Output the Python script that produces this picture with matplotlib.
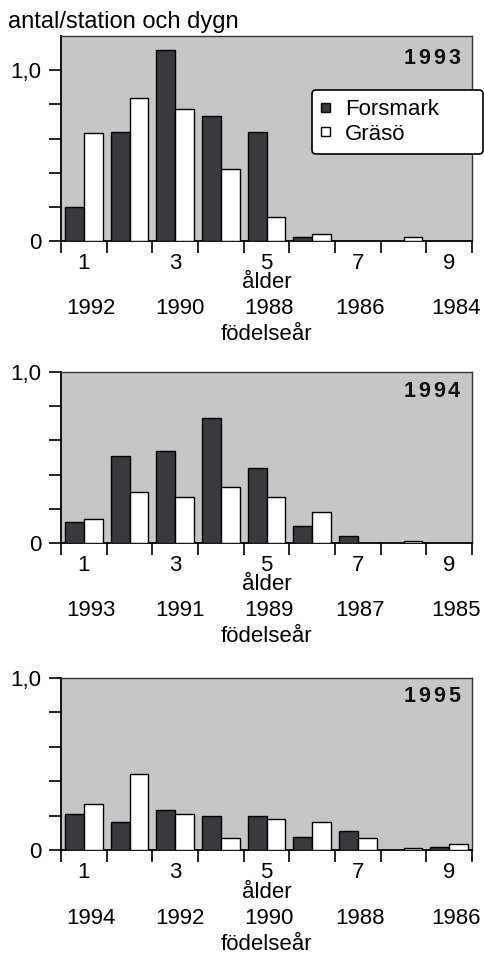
import numpy as np
import matplotlib
matplotlib.use("Agg")
import matplotlib.pyplot as plt
from matplotlib.transforms import offset_copy

plt.rcParams['font.family'] = ['Liberation Sans', 'DejaVu Sans']

# ---------------- data ----------------
ages = [1, 2, 3, 4, 5, 6, 7, 8, 9]
age_labels = ['1', '3', '5', '7', '9']
age_label_pos = [1, 3, 5, 7, 9]

panel_years = ['1993', '1994', '1995']
birth_years_1993 = ['1992', '1990', '1988', '1986', '1984']
birth_years_1994 = ['1993', '1991', '1989', '1987', '1985']
birth_years_1995 = ['1994', '1992', '1990', '1988', '1986']

forsmark_1993 = [0.20, 0.64, 1.12, 0.73, 0.64, 0.025, 0.0, 0.0, 0.0]
graso_1993 = [0.63, 0.84, 0.77, 0.42, 0.14, 0.04, 0.0, 0.025, 0.0]
forsmark_1994 = [0.12, 0.51, 0.54, 0.73, 0.44, 0.10, 0.043, 0.0, 0.0]
graso_1994 = [0.14, 0.30, 0.27, 0.33, 0.27, 0.18, 0.0, 0.012, 0.0]
forsmark_1995 = [0.21, 0.16, 0.23, 0.20, 0.20, 0.075, 0.11, 0.0, 0.02]
graso_1995 = [0.27, 0.44, 0.21, 0.07, 0.18, 0.16, 0.07, 0.012, 0.033]

series_names = ['Forsmark', 'Gräsö']
y_label = 'antal/station och dygn'
x_label1 = 'ålder'
x_label2 = 'födelseår'

# ---------------- style ----------------
W, H = 484, 956
FS = 16
BG = '#c6c6c6'
DARK = '#3a3a3e'
bar_w = 0.415

fig = plt.figure(figsize=(W / 100, H / 100), dpi=100)

# axes rectangles in pixels: left, top, right, bottom
rects = [(61, 36, 472, 241), (61, 372, 472, 543), (61, 678, 472, 850)]
ylims = [1.2, 1.0, 1.0]
title_dy = [23, 19, 18]
fors = [forsmark_1993, forsmark_1994, forsmark_1995]
gras = [graso_1993, graso_1994, graso_1995]
births = [birth_years_1993, birth_years_1994, birth_years_1995]
birth_pos = [1.15, 3.1, 5.05, 7.05, 9.15]

x = np.array(ages, dtype=float)
axes = []
for k, (l, t, r, b) in enumerate(rects):
    ax = fig.add_axes([l / W, 1 - b / H, (r - l) / W, (b - t) / H])
    axes.append(ax)
    ax.set_facecolor(BG)
    f = np.array(fors[k]); g = np.array(gras[k])
    mf = f > 0; mg = g > 0
    ax.bar(x[mf] - bar_w / 2, f[mf], width=bar_w, color=DARK, edgecolor='black',
           linewidth=1.0, label=series_names[0], zorder=3)
    ax.bar(x[mg] + bar_w / 2, g[mg], width=bar_w, color='white', edgecolor='black',
           linewidth=1.0, label=series_names[1], zorder=3)
    ax.set_xlim(0.5, 9.5)
    ax.set_ylim(0, ylims[k])

    # x ticks at category boundaries, labels at centres
    ax.set_xticks(np.arange(0.5, 10, 1.0))
    ax.set_xticklabels([])
    ax.set_xticks(age_label_pos, minor=True)
    ax.set_xticklabels(age_labels, minor=True, fontsize=FS)
    ax.tick_params(axis='x', which='major', direction='out', length=8.6, width=1.2,
                   color='black')
    ax.tick_params(axis='x', which='minor', length=0, pad=8.5)

    ax.set_yticks([0, 1.0])
    ax.set_yticklabels(['0', '1,0'], fontsize=FS)
    ax.set_yticks([0.2, 0.4, 0.6, 0.8], minor=True)
    ax.tick_params(axis='y', which='both', direction='out', length=9, width=1.2,
                   pad=5, color='black')

    for side in ['left', 'bottom']:
        ax.spines[side].set_linewidth(1.3)
        ax.spines[side].set_color('black')
    for side in ['top', 'right']:
        ax.spines[side].set_linewidth(1.0)
        ax.spines[side].set_color('#333333')

    # axis texts below
    tr = ax.get_xaxis_transform()
    t_alder = offset_copy(tr, fig=fig, x=0, y=-42, units='dots')
    ax.text(5, 0, x_label1, transform=t_alder, ha='center', va='center', fontsize=FS)
    t_years = offset_copy(tr, fig=fig, x=0, y=-68, units='dots')
    for p, s in zip(birth_pos, births[k]):
        ax.text(p, 0, s, transform=t_years, ha='center', va='center', fontsize=FS)
    t_fod = offset_copy(tr, fig=fig, x=0, y=-94, units='dots')
    ax.text(5, 0, x_label2, transform=t_fod, ha='center', va='center', fontsize=FS)

    # bold, letter-spaced year label in the upper right corner
    yr = panel_years[k]
    ty = 1 - (t + title_dy[k]) / H
    right = 460
    step = 14.8
    for i, ch in enumerate(yr):
        cx = right - 6.0 - step * (len(yr) - 1 - i)
        fig.text(cx / W, ty, ch, ha='center', va='center', fontsize=15.5,
                 fontweight='bold', color='#111111')

# legend on first panel
ax0 = axes[0]
leg = ax0.legend(loc='upper left', mode='expand',
                 bbox_to_anchor=(312 / W, 1 - 90 / H, (483 - 312) / W, 0.0),
                 bbox_transform=fig.transFigure, fontsize=16,
                 handlelength=0.38, handleheight=0.26, handletextpad=0.7,
                 labelspacing=0.15, borderpad=0.42, borderaxespad=0,
                 fancybox=True, framealpha=1, facecolor='white', edgecolor='black')
leg.get_frame().set_linewidth(1.2)
leg.set_zorder(10)

fig.text(8 / W, 1 - 22 / H, y_label, ha='left', va='center', fontsize=17)

fig.savefig('out.png', dpi=100)
